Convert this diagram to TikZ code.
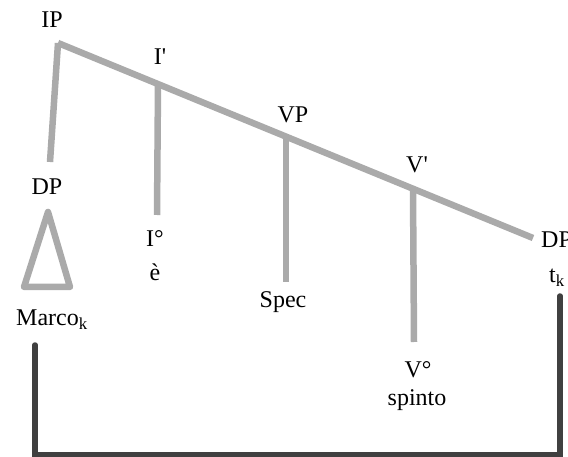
\documentclass[tikz,border=0pt]{standalone}
\usepackage{fontspec}
\setmainfont{Liberation Serif}
\begin{document}
\begin{tikzpicture}[x=1pt,y=-1pt,
  lbl/.style={inner sep=0pt, font=\fontsize{24}{28}\selectfont},
  branch/.style={draw={rgb,255:red,170;green,170;blue,170}, line width=6.5pt, line join=round},
  bracket/.style={draw={rgb,255:red,64;green,64;blue,64}, line width=5.5pt, line cap=round, line join=miter}]
\useasboundingbox (0,0) rectangle (568,457);
% labels
\node[lbl] (ip) at (52,20) {IP};
\node[lbl] (ibar) at (160,57) {I\textquotesingle};
\node[lbl] (vp) at (293,115) {VP};
\node[lbl] (vbar) at (417,165) {V\textquotesingle};
\node[lbl, anchor=west] (dpr) at (541,240) {DP};
\node[lbl] (tk) at (557,278) {t\textsubscript{k}};
\node[lbl] (dpl) at (47,187) {DP};
\node[lbl] (marco) at (52,320) {Marco\textsubscript{k}};
\node[lbl] (io) at (155,239) {I°};
\node[lbl] (e) at (155,272) {è};
\node[lbl] (spec) at (283,302) {Spec};
\node[lbl] (vo) at (418,370) {V°};
\node[lbl] (spinto) at (417,400) {spinto};
% tree coordinates
\coordinate (ipj) at (58,43);
\coordinate (ibj) at (158,84);
\coordinate (vpj) at (286,137);
\coordinate (vbj) at (413,189);
\coordinate (dpj) at (533,238);
\coordinate (dpend) at (50,162);
\coordinate (ioend) at (157,215);
\coordinate (specend) at (286,282);
\coordinate (voend) at (414,342);
\coordinate (ta) at (48,212);
\coordinate (tl) at (24,287);
\coordinate (tr) at (70,287);
% branches
\draw[branch] (ipj) -- (dpj);
\draw[branch] (ipj) -- (dpend);
\draw[branch] (ibj) -- (ioend);
\draw[branch] (vpj) -- (specend);
\draw[branch] (vbj) -- (voend);
\draw[branch] (ta) -- (tl) -- (tr) -- cycle;
% movement bracket
\coordinate (b1) at (35,345);
\coordinate (b2) at (35,455);
\coordinate (b3) at (560,455);
\coordinate (b4) at (560,296);
\draw[bracket] (b1) -- (b2) -- (b3) -- (b4);
\end{tikzpicture}
\end{document}
